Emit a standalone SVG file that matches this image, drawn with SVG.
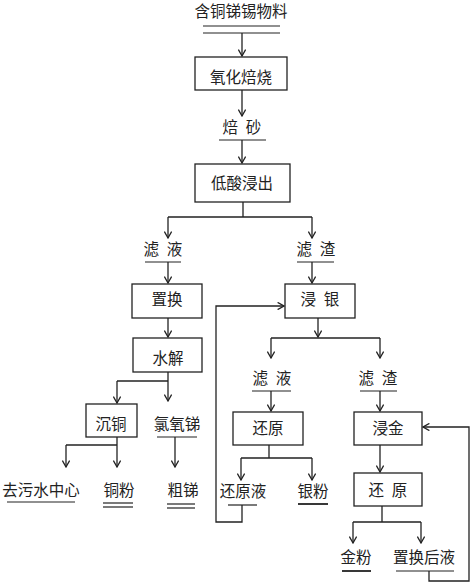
<svg xmlns="http://www.w3.org/2000/svg" width="474" height="586" viewBox="0 0 474 586">
<defs>
<marker id="ah" viewBox="0 0 10 10" refX="9" refY="5" markerWidth="8" markerHeight="8" orient="auto" markerUnits="userSpaceOnUse">
<path d="M1,0.5 L9,5 L1,9.5" fill="none" stroke="#222" stroke-width="1.6"/>
</marker>
<style>
text{font-family:"Noto Sans CJK SC","Noto Sans CJK JP",sans-serif;font-size:15.5px;fill:#222;text-anchor:middle}
rect{fill:#fff;stroke:#222;stroke-width:1.3}
.ln{fill:none;stroke:#222;stroke-width:1.3}
.ar{fill:none;stroke:#222;stroke-width:1.3;marker-end:url(#ah)}
.ul{stroke:#222;stroke-width:1.2}
</style>
</defs>
<rect x="0" y="0" width="474" height="586" style="fill:#fff;stroke:none"/>
<g id="connectors">
<path class="ar" d="M242,33 V56"/>
<path class="ar" d="M242,90 V116"/>
<path class="ar" d="M242,140 V163"/>
<path class="ln" d="M243,202 V217 M168,217 H312"/>
<path class="ar" d="M168,217 V238"/>
<path class="ar" d="M312,217 V238"/>
<path class="ar" d="M168,262 V283"/>
<path class="ar" d="M312,262 V283"/>
<path class="ar" d="M168,318 V337"/>
<path class="ar" d="M168,372 V401"/>
<path class="ln" d="M117,381 H168"/>
<path class="ar" d="M117,381 V403"/>
<path class="ar" d="M117,437 V467"/>
<path class="ln" d="M66,445 H117"/>
<path class="ar" d="M66,445 V467"/>
<path class="ar" d="M175,437 V467"/>
<path class="ar" d="M318,318 V337"/>
<path class="ln" d="M271,338 H380"/>
<path class="ar" d="M271,338 V358"/>
<path class="ar" d="M380,338 V358"/>
<path class="ar" d="M271,391 V411"/>
<path class="ar" d="M380,391 V411"/>
<path class="ln" d="M269,445 V458 M241,458 H312"/>
<path class="ar" d="M241,458 V480"/>
<path class="ar" d="M312,458 V480"/>
<path class="ar" d="M242,505 V522 H216 V306 H284"/>
<path class="ar" d="M380,445 V472"/>
<path class="ln" d="M382,506 V522 M353,522 H421"/>
<path class="ar" d="M353,522 V543"/>
<path class="ar" d="M421,522 V543"/>
<path class="ar" d="M429,571 V581 H469 V427 H423"/>
</g>
<g id="n-raw"><text x="241" y="17">含铜锑锡物料</text><line class="ul" x1="203" y1="26" x2="280" y2="26"/><line class="ul" x1="203" y1="33" x2="280" y2="33"/></g>
<g id="n-roast"><rect x="195" y="57" width="92" height="33"/><text x="241" y="79" dominant-baseline="middle">氧化焙烧</text></g>
<g id="n-calcine"><text x="242" y="129" dominant-baseline="middle">焙&#8194;砂</text><line class="ul" x1="219" y1="140" x2="266" y2="140"/></g>
<g id="n-leach"><rect x="195" y="164" width="95" height="38"/><text x="242" y="185" dominant-baseline="middle">低酸浸出</text></g>
<g id="n-filtrate1"><text x="163" y="251" dominant-baseline="middle">滤&#8194;液</text><line class="ul" x1="145" y1="262" x2="181" y2="262"/></g>
<g id="n-residue1"><text x="316" y="251" dominant-baseline="middle">滤&#8194;渣</text><line class="ul" x1="297" y1="262" x2="334" y2="262"/></g>
<g id="n-replace"><rect x="132" y="284" width="70" height="34"/><text x="167" y="301" dominant-baseline="middle">置换</text></g>
<g id="n-agleach"><rect x="285" y="284" width="70" height="34"/><text x="320" y="301" dominant-baseline="middle">浸&#8194;银</text></g>
<g id="n-hydrolysis"><rect x="133" y="338" width="69" height="34"/><text x="168" y="360" dominant-baseline="middle">水解</text></g>
<g id="n-cuprecip"><rect x="86" y="404" width="51" height="33"/><text x="111" y="426" dominant-baseline="middle">沉铜</text></g>
<g id="n-sbocl"><text x="177" y="426" dominant-baseline="middle">氯氧锑</text><line class="ul" x1="157" y1="437" x2="197" y2="437"/></g>
<g id="n-waste"><text x="41" y="492" dominant-baseline="middle">去污水中心</text><line class="ul" x1="7" y1="502" x2="75" y2="502"/></g>
<g id="n-cupowder"><text x="119" y="492" dominant-baseline="middle">铜粉</text><line class="ul" x1="103" y1="503" x2="133" y2="503"/><line class="ul" x1="103" y1="507" x2="133" y2="507"/></g>
<g id="n-crudesb"><text x="183" y="492" dominant-baseline="middle">粗锑</text><line class="ul" x1="167" y1="504" x2="195" y2="504"/><line class="ul" x1="167" y1="508" x2="195" y2="508"/></g>
<g id="n-filtrate2"><text x="272" y="380" dominant-baseline="middle">滤&#8194;液</text><line class="ul" x1="252" y1="391" x2="291" y2="391"/></g>
<g id="n-residue2"><text x="378" y="380" dominant-baseline="middle">滤&#8194;渣</text><line class="ul" x1="360" y1="391" x2="397" y2="391"/></g>
<g id="n-reduce1"><rect x="233" y="412" width="70" height="33"/><text x="268" y="430" dominant-baseline="middle">还原</text></g>
<g id="n-auleach"><rect x="354" y="412" width="68" height="33"/><text x="388" y="430" dominant-baseline="middle">浸金</text></g>
<g id="n-redliquor"><text x="243" y="493" dominant-baseline="middle">还原液</text><line class="ul" x1="228" y1="505" x2="257" y2="505"/></g>
<g id="n-agpowder"><text x="313" y="493" dominant-baseline="middle">银粉</text><line class="ul" x1="298" y1="504" x2="328" y2="504" style="stroke-width:1.8"/></g>
<g id="n-reduce2"><rect x="354" y="473" width="68" height="33"/><text x="388" y="492" dominant-baseline="middle">还&#8194;原</text></g>
<g id="n-aupowder"><text x="356" y="559" dominant-baseline="middle">金粉</text><line class="ul" x1="342" y1="571" x2="371" y2="571" style="stroke-width:1.8"/></g>
<g id="n-afterliquor"><text x="424" y="559" dominant-baseline="middle">置换后液</text><line class="ul" x1="396" y1="571" x2="454" y2="571"/></g>
</svg>
